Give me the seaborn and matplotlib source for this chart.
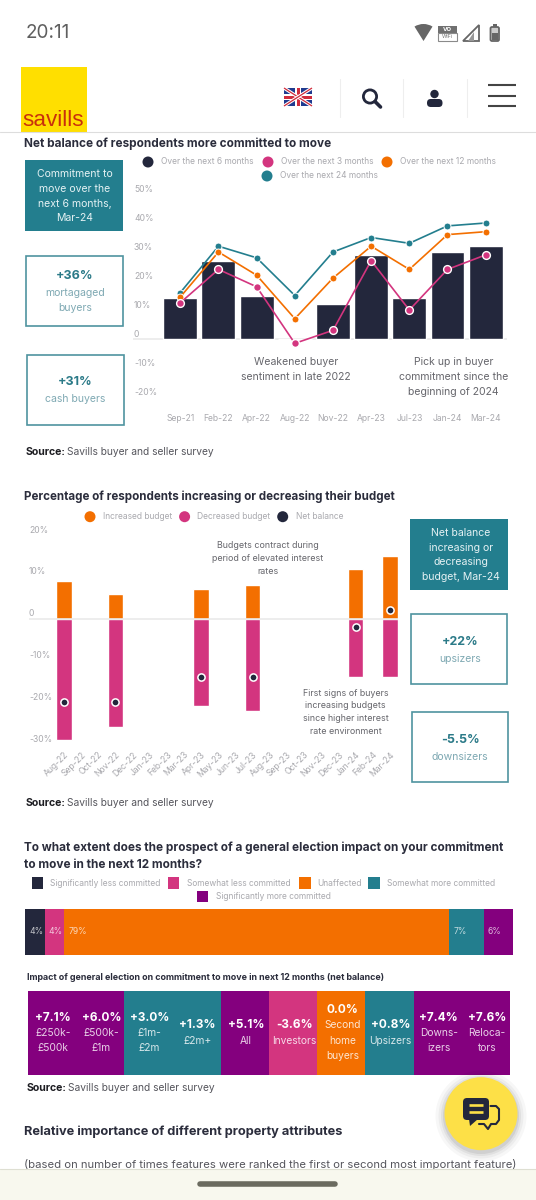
import numpy as np
import pandas as pd
import seaborn as sns
import matplotlib
matplotlib.use('Agg')
import matplotlib.pyplot as plt
from matplotlib.patches import Rectangle, Circle, Wedge, FancyBboxPatch, Polygon
from matplotlib.colors import ListedColormap, BoundaryNorm
from matplotlib.transforms import ScaledTranslation

# chart 1 - net balance of respondents more committed to move
months1 = ['Sep-21', 'Feb-22', 'Apr-22', 'Aug-22', 'Nov-22', 'Apr-23', 'Jul-23', 'Jan-24', 'Mar-24']
next_6m = [14, 27, 15, 0, 12, 29, 14, 30, 32]
next_3m = [12.5, 24, 18, -1.5, 3, 27, 10, 24, 29]
next_12m = [14.5, 30, 22, 7, 21, 32, 24, 36, 37]
next_24m = [16, 32, 28, 15, 30, 35, 33, 39, 40]
yticks1 = [-20, -10, 0, 10, 20, 30, 40, 50]
ylabels1 = ['-20%', '-10%', '0', '10%', '20%', '30%', '40%', '50%']

# chart 2 - budgets
months2 = ['Aug-22', 'Sep-22', 'Oct-22', 'Nov-22', 'Dec-22', 'Jan-23', 'Feb-23', 'Mar-23', 'Apr-23', 'May-23',
           'Jun-23', 'Jul-23', 'Aug-23', 'Sep-23', 'Oct-23', 'Nov-23', 'Dec-23', 'Jan-24', 'Feb-24', 'Mar-24']
nan = np.nan
increased = [9, nan, nan, 6, nan, nan, nan, nan, 7, nan, nan, 8, nan, nan, nan, nan, nan, 12, nan, 15]
decreased = [-29, nan, nan, -26, nan, nan, nan, nan, -21, nan, nan, -22, nan, nan, nan, nan, nan, -14, nan, -14]
net_balance = [-20, nan, nan, -20, nan, nan, nan, nan, -14, nan, nan, -14, nan, nan, nan, nan, nan, -2, nan, 2]
yticks2 = [-30, -20, -10, 0, 10, 20]
ylabels2 = ['-30%', '-20%', '-10%', '0', '10%', '20%']

# chart 3 - election impact
election_labels = ['Significantly less committed', 'Somewhat less committed', 'Unaffected',
                   'Somewhat more committed', 'Significantly more committed']
election_vals = [4, 4, 79, 7, 6]

# strip of net balances
strip_vals = [7.1, 6.0, 3.0, 1.3, 5.1, -3.6, 0.0, 0.8, 7.4, 7.6]
strip_heads = ['+7.1%', '+6.0%', '+3.0%', '+1.3%', '+5.1%', '-3.6%', '0.0%', '+0.8%', '+7.4%', '+7.6%']
strip_names = [['£250k-', '£500k'], ['£500k-', '£1m'], ['£1m-', '£2m'], ['£2m+'], ['All'], ['Investors'],
               ['Second', 'home', 'buyers'], ['Upsizers'], ['Downs-', 'izers'], ['Reloca-', 'tors']]

NAVY = '#23273c'
PINK = '#d3357f'
ORANGE = '#f36f00'
TEAL = '#237e8e'
PURPLE = '#84007e'
INK = '#2b2d3c'
GREY = '#a9a9ae'
NOTE = '#66666c'
EDGE = '#4f949f'

sns.set_theme(style='white')
plt.rcParams['font.family'] = ['Inter', 'DejaVu Sans']

W, H = 536, 1200
fig = plt.figure(figsize=(W / 100, H / 100), dpi=100, facecolor='white')


def px_axes(x0, y0, x1, y1):
    ax = fig.add_axes([x0 / W, 1 - y1 / H, (x1 - x0) / W, (y1 - y0) / H])
    ax.patch.set_alpha(0)
    return ax


def pts(px):
    return px * 0.72


# overlay in pixel coordinates for the page furniture
ov = fig.add_axes([0, 0, 1, 1], zorder=5)
ov.set_xlim(0, W)
ov.set_ylim(H, 0)
ov.axis('off')


def txt(x, y, s, size, color=INK, weight='normal', ha='left', **kw):
    return ov.text(x, y, s, fontsize=pts(size), color=color, fontweight=weight, ha=ha, va='center', **kw)


def rect(x0, y0, x1, y1, **kw):
    ov.add_patch(Rectangle((x0, y0), x1 - x0, y1 - y0, **kw))


def source(x, y):
    txt(x, y, 'Source:', 10.6, '#1d1d22', 'bold')
    txt(x + 41, y, 'Savills buyer and seller survey', 10.2, '#55555c')


def legend_dots(items, y=None):
    for cx, cy, tx, color, label in items:
        ov.add_patch(Circle((cx, cy), 5.5, color=color, lw=0))
        txt(tx, cy, label, 8.4, GREY)


# status bar
txt(26, 33, '20:11', 19, '#5f5f5f')
ov.add_patch(Wedge((423.5, 41), 17, 238, 302, color='#666666', lw=0))
rect(437.6, 25.7, 456.7, 33, color='#707070', lw=0)
rect(437.6, 33, 456.7, 40.7, fc='white', ec='#8a8a8a', lw=0.8)
txt(447, 29.5, 'VO', 6, 'white', 'bold', ha='center')
txt(447, 37, 'WiFi', 5.5, '#777777', ha='center')
ov.add_patch(Polygon([(463, 41), (478.6, 41), (478.6, 25)], fc='white', ec='#666666', lw=1.3))
ov.add_patch(Polygon([(468, 41), (474, 41), (474, 32)], fc='#999999', lw=0))
ov.add_patch(FancyBboxPatch((490.5, 27), 8.5, 14, boxstyle='round,pad=0,rounding_size=1.5', fc='#cccccc', ec='#666666', lw=1.3))
rect(492, 33, 497.5, 40, color='#666666', lw=0)
rect(492.5, 24, 497, 27, color='#666666', lw=0)

# site header
rect(21, 67, 86.5, 132, color='#ffdf00', lw=0)
ov.text(53.5, 120, 'savills', fontsize=pts(22.5), color='#c9300c', family='Liberation Sans', ha='center', va='center')
rect(284, 88, 312, 106, color='#1f3a8f', lw=0)
for a, b in [((284, 88), (312, 106)), ((284, 106), (312, 88))]:
    ov.plot([a[0], b[0]], [a[1], b[1]], color='white', lw=2.4, solid_capstyle='butt')
    ov.plot([a[0], b[0]], [a[1], b[1]], color='#d02b3c', lw=0.9, solid_capstyle='butt')
rect(295, 88, 301, 106, color='white', lw=0)
rect(284, 94, 312, 100, color='white', lw=0)
rect(296.5, 88, 299.5, 106, color='#d02b3c', lw=0)
rect(284, 95.5, 312, 98.5, color='#d02b3c', lw=0)
for sx in [339.5, 403, 467]:
    ov.plot([sx, sx], [79, 117], color='#eeeeee', lw=0.8)
ov.add_patch(Circle((370, 96.5), 6.6, fc='none', ec=NAVY, lw=2))
ov.plot([375, 380.5], [101.5, 107], color=NAVY, lw=2.6, solid_capstyle='round')
ov.add_patch(Circle((434.5, 94), 4.2, color=NAVY, lw=0))
ov.add_patch(FancyBboxPatch((427, 99), 15.5, 8, boxstyle='round,pad=0,rounding_size=3.8', color=NAVY, lw=0))
for by in [84.5, 95.5, 106]:
    ov.plot([488, 516], [by, by], color='#444444', lw=1.5, solid_capstyle='butt')
ov.plot([0, W], [131.8, 131.8], color='#dddddd', lw=0.8)

# section 1 text
txt(24, 144, 'Net balance of respondents more committed to move', 11.8, INK, 'bold')
legend_dots([(148, 162, 161, NAVY, 'Over the next 6 months'),
             (268, 162, 281, PINK, 'Over the next 3 months'),
             (387, 162, 400, ORANGE, 'Over the next 12 months'),
             (267, 176, 280, TEAL, 'Over the next 24 months')])


def teal_box(x0, y0, x1, y1, cx, lines, ys):
    rect(x0, y0, x1, y1, color=TEAL, lw=0)
    for line, y in zip(lines, ys):
        txt(cx, y, line, 10.5, '#e4f1f3', ha='center')


def stat_box(x0, y0, x1, y1, cx, head, head_y, lines, ys):
    rect(x0, y0, x1, y1, fc='white', ec=EDGE, lw=1.2)
    txt(cx, head_y, head, 12.5, '#2b7a88', 'bold', ha='center')
    for line, y in zip(lines, ys):
        txt(cx, y, line, 10.5, '#7fa9b3', ha='center')


teal_box(25, 160, 123, 231, 75, ['Commitment to', 'move over the', 'next 6 months,', 'Mar-24'], [174, 189, 204, 218])
stat_box(25.5, 256, 123, 326, 75, '+36%', 276, ['mortagaged', 'buyers'], [293, 308])
stat_box(26.5, 355, 123.5, 425, 75, '+31%', 382, ['cash buyers'], [399])
source(26, 452)

# chart 1
cx0, step1 = 180.3, 38.17
ax1 = px_axes(133, 194, 507, 397)
sns.barplot(x=months1, y=next_6m, color=NAVY, saturation=1, width=0.89, errorbar=None, ax=ax1, zorder=2)
pos1 = np.arange(len(months1))
sns.lineplot(x=pos1, y=next_24m, color=TEAL, lw=1.2, marker='o', ms=5, mec='white', mew=0.7, errorbar=None, ax=ax1, zorder=3)
sns.lineplot(x=pos1, y=next_12m, color=ORANGE, lw=1.2, marker='o', ms=5, mec='white', mew=0.7, errorbar=None, ax=ax1, zorder=4)
sns.lineplot(x=pos1, y=next_3m, color=PINK, lw=1.2, marker='o', ms=5.6, mec='white', mew=1, errorbar=None, ax=ax1, zorder=5)
ax1.axhline(0, color='#e8e8e8', lw=1.1, zorder=1)
ax1.set_xlim((133 - cx0) / step1, (507 - cx0) / step1)
ax1.set_ylim(-20, 50)
ax1.set_xticks(pos1)
ax1.set_xticklabels(months1)
ax1.set_yticks(yticks1)
ax1.set_yticklabels(ylabels1)
ax1.tick_params(axis='x', length=0, pad=pts(17), labelsize=pts(8.6), labelcolor=GREY)
ax1.tick_params(axis='y', length=0, pad=0, labelsize=pts(8.6), labelcolor=GREY)
up1 = ScaledTranslation(1 / 100, 5.7 / 100, fig.dpi_scale_trans)
for lab in ax1.get_yticklabels():
    lab.set_ha('left')
    lab.set_transform(lab.get_transform() + up1)
sns.despine(ax=ax1, left=True, bottom=True)
for cx, lines in [(296, ['Weakened buyer', 'sentiment in late 2022']),
                  (453.7, ['Pick up in buyer', 'commitment since the', 'beginning of 2024'])]:
    for i, line in enumerate(lines):
        txt(cx, 362 + i * 15, line, 10.5, NOTE, ha='center')

# section 2 text
txt(24, 497, 'Percentage of respondents increasing or decreasing their budget', 11.6, INK, 'bold')
legend_dots([(90, 516.7, 102.6, ORANGE, 'Increased budget'),
             (184.6, 516.7, 196.6, PINK, 'Decreased budget'),
             (282.7, 516.7, 295.7, NAVY, 'Net balance')])
teal_box(410, 519, 507.7, 589.5, 461, ['Net balance', 'increasing or', 'decreasing', 'budget, Mar-24'], [533, 547.7, 562, 577])
stat_box(410.5, 614, 507.3, 684, 460, '+22%', 642, ['upsizers'], [659])
stat_box(411.5, 712, 508, 782, 460, '-5.5%', 740, ['downsizers'], [757])
source(26, 803)

# chart 2
cx2, step2 = 63.9, 17.16
ax2 = px_axes(29, 535.1, 398, 744.1)
pos2 = np.arange(len(months2))
sns.barplot(x=months2, y=increased, order=months2, color=ORANGE, saturation=1, width=0.9, errorbar=None, ax=ax2, zorder=2)
sns.barplot(x=months2, y=decreased, order=months2, color=PINK, saturation=1, width=0.9, errorbar=None, ax=ax2, zorder=2)
sns.scatterplot(x=pos2, y=net_balance, color=NAVY, s=27, edgecolor='white', linewidth=1.1, ax=ax2, zorder=5)
ax2.axhline(0, color='#e8e8e8', lw=1.1, zorder=3)
ax2.set_xlim((29 - cx2) / step2, (398 - cx2) / step2)
ax2.set_ylim(-30, 20)
ax2.set_xticks(pos2)
ax2.set_xticklabels(months2, rotation=45, ha='right', rotation_mode='anchor')
ax2.set_yticks(yticks2)
ax2.set_yticklabels(ylabels2)
ax2.tick_params(axis='x', length=0, pad=pts(6), labelsize=pts(8.6), labelcolor=GREY)
ax2.tick_params(axis='y', length=0, pad=0, labelsize=pts(8.6), labelcolor=GREY)
up2 = ScaledTranslation(0, 6 / 100, fig.dpi_scale_trans)
for lab in ax2.get_yticklabels():
    lab.set_ha('left')
    lab.set_transform(lab.get_transform() + up2)
sns.despine(ax=ax2, left=True, bottom=True)
for i, line in enumerate(['Budgets contract during', 'period of elevated interest', 'rates']):
    txt(268, 546 + i * 12.9, line, 8.9, NOTE, ha='center')
for i, line in enumerate(['First signs of buyers', 'increasing budgets', 'since higher interest', 'rate environment']):
    txt(345.6, 693 + i * 12.7, line, 8.9, NOTE, ha='center')

# section 3 text
txt(24, 848, 'To what extent does the prospect of a general election impact on your commitment', 11.8, INK, 'bold')
txt(24, 865, 'to move in the next 12 months?', 11.8, INK, 'bold')
colors3 = [NAVY, PINK, ORANGE, TEAL, PURPLE]
legend3 = [(37.6, 883, 50), (173.7, 883, 186.7), (305, 883, 317), (374, 883, 386.7), (202.7, 896.7, 215.7)]
for (lx, ly, tx), col, label in zip(legend3, colors3, election_labels):
    rect(lx - 5.7, ly - 5.7, lx + 5.7, ly + 5.7, color=col, lw=0)
    txt(tx, ly, label, 8.4, GREY)

# chart 3, stacked bar
ax3 = px_axes(25.3, 909, 512.8, 955)
left = 0
for val, col in zip(election_vals, colors3):
    sns.barplot(x=[val], y=[0], left=left, orient='y', color=col, saturation=1, width=1, errorbar=None,
                linewidth=0, ax=ax3)
    ax3.text(left + 0.8, 0, f'{val}%', fontsize=pts(8.6), color='white', alpha=0.72, ha='left', va='center')
    left += val
ax3.set_xlim(0, 100)
ax3.set_ylim(0.5, -0.5)
ax3.axis('off')

txt(27, 978, 'Impact of general election on commitment to move in next 12 months (net balance)', 8.9, INK, 'bold')

# strip of net balances as a one row heatmap
ax4 = px_axes(28, 990.7, 510, 1075.3)
strip_cmap = ListedColormap([PINK, ORANGE, TEAL, PURPLE])
strip_norm = BoundaryNorm([-10, -0.05, 0.05, 5, 10], 4)
sns.heatmap(np.array([strip_vals]), cmap=strip_cmap, norm=strip_norm, cbar=False,
            xticklabels=False, yticklabels=False, ax=ax4)
for i, (head, names) in enumerate(zip(strip_heads, strip_names)):
    rows = [head] + names
    for j, row in enumerate(rows):
        off = ((len(rows) - 1) / 2 - j) * 15.2
        ax4.annotate(row, xy=(i + 0.5, 0.5), xytext=(pts(1), pts(off)), textcoords='offset points',
                     ha='center', va='center', fontsize=pts(11.8 if j == 0 else 10.2),
                     fontweight='bold' if j == 0 else 'normal', color='white', alpha=1 if j == 0 else 0.82)

source(27, 1088)

txt(24, 1131.7, 'Relative importance of different property attributes', 12.8, INK, 'bold')
txt(24, 1165, '(based on number of times features were ranked the first or second most important feature)', 11.3, '#55555c')

# android nav bar
rect(0, 1169, W, 1200, color='#f8f8ee', lw=0, zorder=6)
ov.plot([0, W], [1169, 1169], color='#dedfd2', lw=0.8, zorder=7)
ov.plot([200, 335], [1184, 1184], color='#6b6b5f', lw=4, solid_capstyle='round', zorder=7)

# chat button
for grow, a in zip([9, 6, 3.5, 1.5], [0.03, 0.04, 0.05, 0.07]):
    ov.add_patch(Circle((481, 1116), 36.5 + grow, color='black', alpha=a, lw=0, zorder=6))
ov.add_patch(Circle((481, 1113.7), 36.5, color='#fde047', lw=0, zorder=6))
ov.add_patch(FancyBboxPatch((463, 1098), 26, 22, boxstyle='round,pad=0,rounding_size=4', color=NAVY, lw=0, zorder=7))
ov.add_patch(Polygon([(469, 1119), (478, 1119), (470, 1126)], color=NAVY, lw=0, zorder=7))
for ly in [1105, 1112]:
    ov.plot([469, 483], [ly, ly], color='#fde047', lw=1.9, zorder=8, solid_capstyle='butt')
ov.plot([490.5, 496, 499, 499, 496, 491, 488, 484, 479], [1106, 1106, 1109, 1120, 1124, 1124, 1129, 1124, 1124],
        color=NAVY, lw=1.5, zorder=7)

fig.savefig('out.png', dpi=100)
